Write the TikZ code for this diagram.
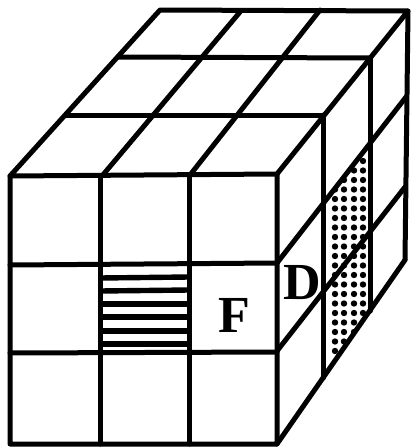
\documentclass[tikz,border=0pt]{standalone}
\usepackage{fontspec}
\setmainfont{Liberation Serif}
\tikzset{
  cubeline/.style={draw=black, line width=5pt, line cap=round, line join=round},
  stripeline/.style={draw=black, line width=5.4pt},
  stipple/.style={fill=black},
  facelabel/.style={inner sep=0pt, font=\fontsize{52}{52}\selectfont\bfseries}
}
\begin{document}
\begin{tikzpicture}[x=1pt, y=-1pt]
  \useasboundingbox (0,0) rectangle (410,447);
  \begin{scope}
    \clip (323,205) -- (370,146) -- (370,311) -- (323,380) -- cycle;
    \foreach \col in {335,344,354,363} {
      \foreach \row in {161,170.5,...,360} {
        \fill[stipple] (\col,\row) circle (3.2pt);
      }
    }
  \end{scope}
  \draw[stripeline] (100,278) -- (189,277);
  \draw[stripeline] (100,291) -- (189,290);
  \draw[stripeline] (100,304) -- (189,304);
  \draw[stripeline] (100,317) -- (189,317);
  \draw[stripeline] (100,331) -- (189,331);
  \draw[stripeline] (100,344) -- (189,344);
  \draw[cubeline] (10,176) -- (277,174) -- (277,444) -- (10,444) -- cycle;
  \draw[cubeline] (10,265) -- (277,263);
  \draw[cubeline] (10,353) -- (277,352);
  \draw[cubeline] (100,176) -- (100,444);
  \draw[cubeline] (189,175) -- (189,444);
  \draw[cubeline] (10,176) -- (160,10) -- (408,11) -- (277,174);
  \draw[cubeline] (102,176) -- (240,12);
  \draw[cubeline] (190,175) -- (320,10);
  \draw[cubeline] (118,57) -- (370,58);
  \draw[cubeline] (66,115) -- (323,115);
  \draw[cubeline] (323,115) -- (323,378);
  \draw[cubeline] (370,58) -- (370,311);
  \draw[cubeline] (408,11) -- (405,260);
  \draw[cubeline] (277,263) -- (406,97);
  \draw[cubeline] (277,351) -- (405,187);
  \draw[cubeline] (277,444) -- (405,260);
  \node[facelabel] (labelF) at (234,315) {F};
  \node[facelabel] (labelD) at (302,283) {D};
\end{tikzpicture}
\end{document}
